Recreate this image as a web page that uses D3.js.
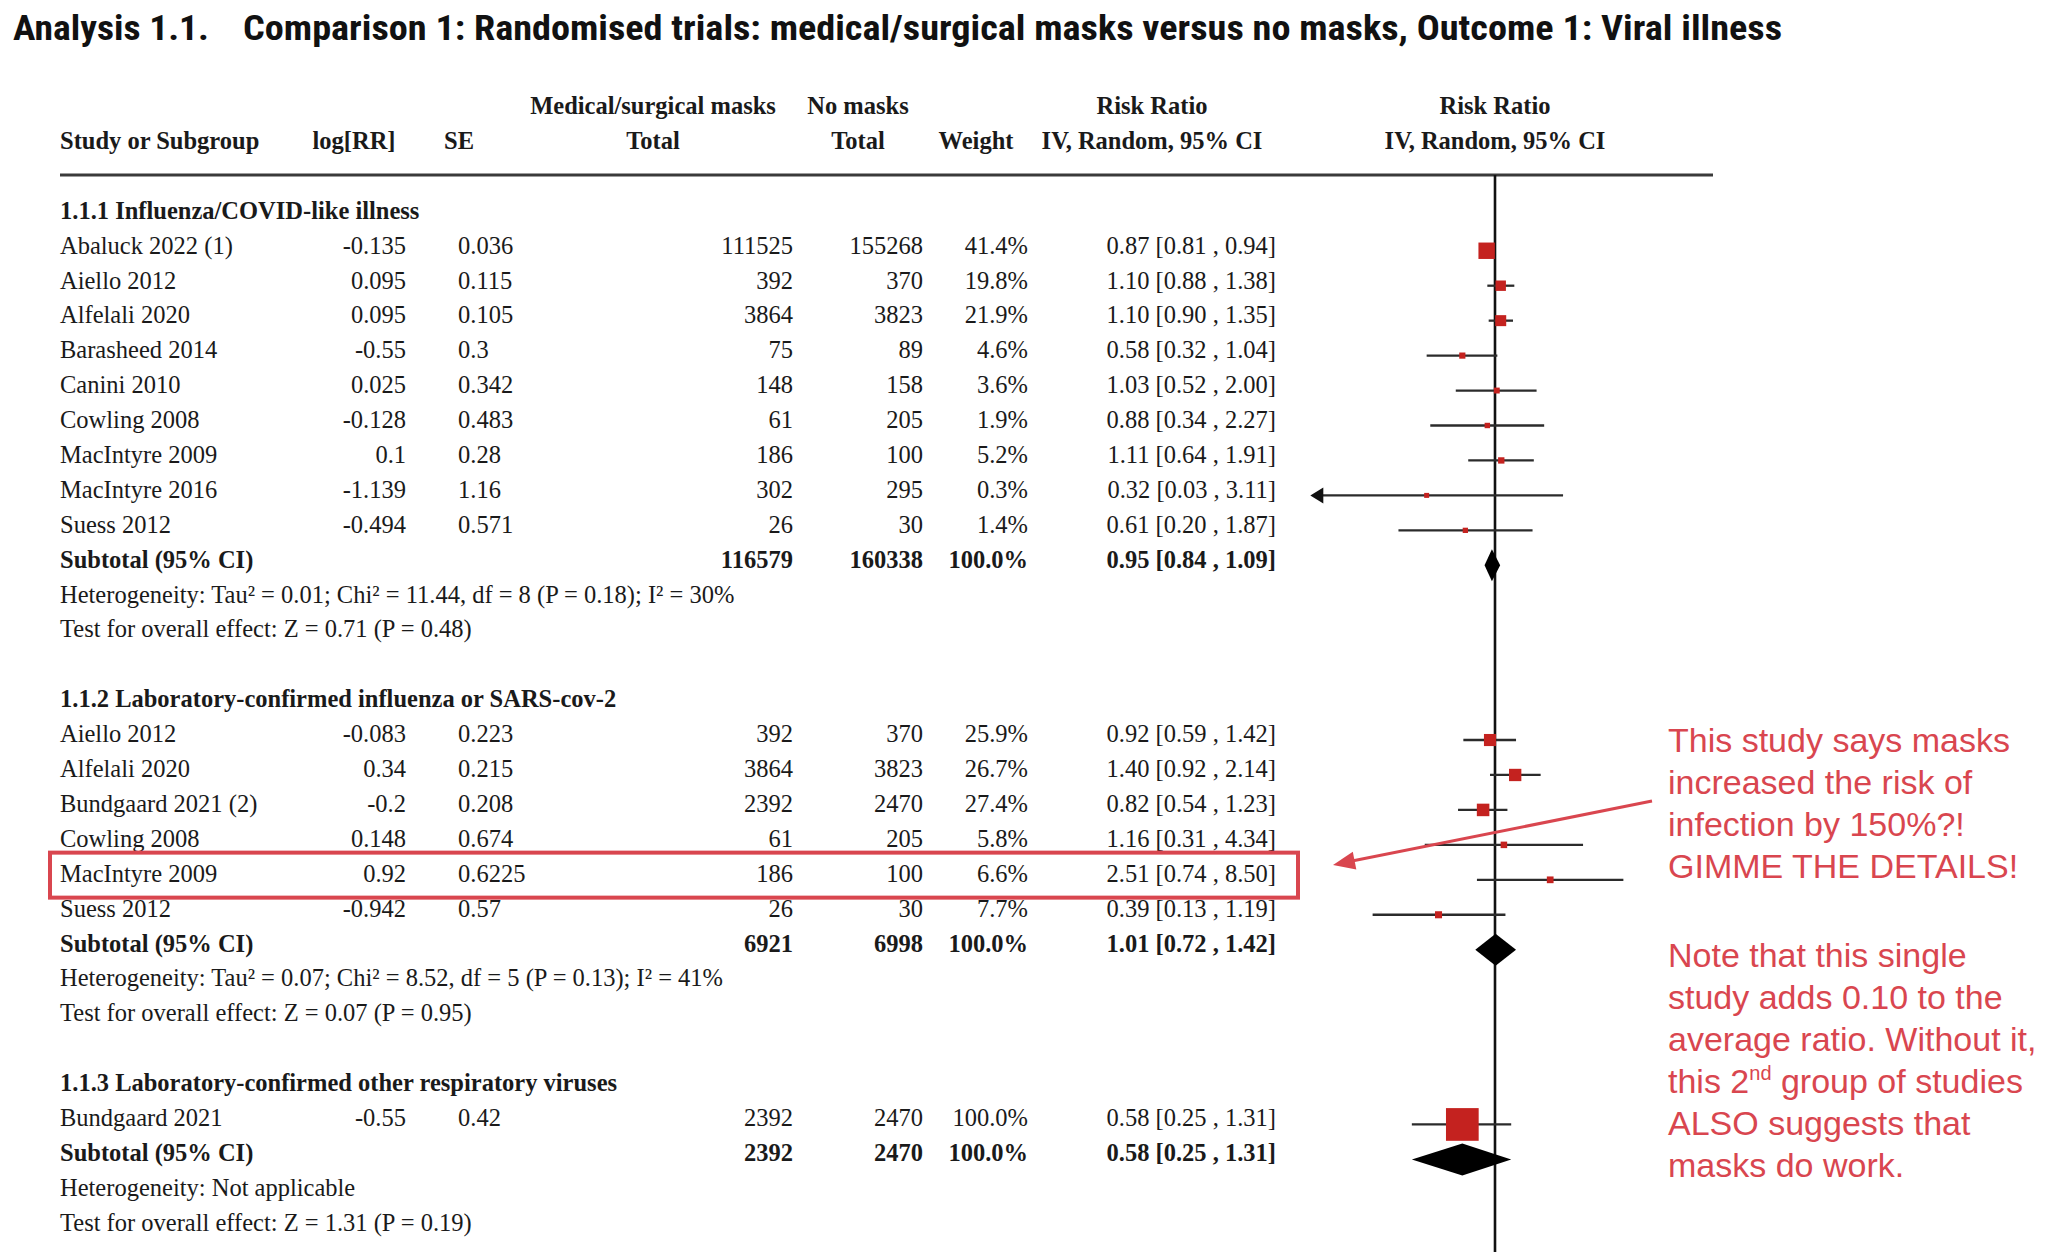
<!DOCTYPE html>
<html><head><meta charset="utf-8">
<script src="https://cdn.jsdelivr.net/npm/d3@7"></script>
<style>body{margin:0;background:#fff;} svg{display:block}</style>
</head><body><svg id="c" width="2048" height="1256"></svg>
<script>
// ---------- DATA ----------
const titleLead = "Analysis 1.1.";
const titleMain = "Comparison 1: Randomised trials: medical/surgical masks versus no masks, Outcome 1: Viral illness";
const headerTop = ["Medical/surgical masks", "No masks", "Risk Ratio", "Risk Ratio"];
const headerBottom = ["Study or Subgroup", "log[RR]", "SE", "Total", "Total", "Weight", "IV, Random, 95% CI", "IV, Random, 95% CI"];
const groupTitles = ["1.1.1 Influenza/COVID-like illness", "1.1.2 Laboratory-confirmed influenza or SARS-cov-2", "1.1.3 Laboratory-confirmed other respiratory viruses"];

const g1Names = ["Abaluck 2022 (1)", "Aiello 2012", "Alfelali 2020", "Barasheed 2014", "Canini 2010", "Cowling 2008", "MacIntyre 2009", "MacIntyre 2016", "Suess 2012"];
const g1LogRR = ["-0.135", "0.095", "0.095", "-0.55", "0.025", "-0.128", "0.1", "-1.139", "-0.494"];
const g1SE = ["0.036", "0.115", "0.105", "0.3", "0.342", "0.483", "0.28", "1.16", "0.571"];
const g1Masks = [111525, 392, 3864, 75, 148, 61, 186, 302, 26];
const g1NoMasks = [155268, 370, 3823, 89, 158, 205, 100, 295, 30];
const g1Weight = [41.4, 19.8, 21.9, 4.6, 3.6, 1.9, 5.2, 0.3, 1.4];
const g1RR = [0.87, 1.10, 1.10, 0.58, 1.03, 0.88, 1.11, 0.32, 0.61];
const g1Lo = [0.81, 0.88, 0.90, 0.32, 0.52, 0.34, 0.64, 0.03, 0.20];
const g1Hi = [0.94, 1.38, 1.35, 1.04, 2.00, 2.27, 1.91, 3.11, 1.87];

const g2Names = ["Aiello 2012", "Alfelali 2020", "Bundgaard 2021 (2)", "Cowling 2008", "MacIntyre 2009", "Suess 2012"];
const g2LogRR = ["-0.083", "0.34", "-0.2", "0.148", "0.92", "-0.942"];
const g2SE = ["0.223", "0.215", "0.208", "0.674", "0.6225", "0.57"];
const g2Masks = [392, 3864, 2392, 61, 186, 26];
const g2NoMasks = [370, 3823, 2470, 205, 100, 30];
const g2Weight = [25.9, 26.7, 27.4, 5.8, 6.6, 7.7];
const g2RR = [0.92, 1.40, 0.82, 1.16, 2.51, 0.39];
const g2Lo = [0.59, 0.92, 0.54, 0.31, 0.74, 0.13];
const g2Hi = [1.42, 2.14, 1.23, 4.34, 8.50, 1.19];

const g3Names = ["Bundgaard 2021"];
const g3LogRR = ["-0.55"];
const g3SE = ["0.42"];
const g3Masks = [2392];
const g3NoMasks = [2470];
const g3Weight = [100.0];
const g3RR = [0.58];
const g3Lo = [0.25];
const g3Hi = [1.31];

const subMasks = [116579, 6921, 2392];
const subNoMasks = [160338, 6998, 2470];
const subWeight = [100.0, 100.0, 100.0];
const subRR = [0.95, 1.01, 0.58];
const subLo = [0.84, 0.72, 0.25];
const subHi = [1.09, 1.42, 1.31];

const hetTexts = [
  "Heterogeneity: Tau² = 0.01; Chi² = 11.44, df = 8 (P = 0.18); I² = 30%",
  "Heterogeneity: Tau² = 0.07; Chi² = 8.52, df = 5 (P = 0.13); I² = 41%",
  "Heterogeneity: Not applicable"
];
const testTexts = [
  "Test for overall effect: Z = 0.71 (P = 0.48)",
  "Test for overall effect: Z = 0.07 (P = 0.95)",
  "Test for overall effect: Z = 1.31 (P = 0.19)"
];
const highlightStudy = {group: 1, name: "MacIntyre 2009"};
const noteLines1 = ["This study says masks", "increased the risk of", "infection by 150%?!", "GIMME THE DETAILS!"];
const noteLines2 = ["Note that this single", "study adds 0.10 to the", "average ratio. Without it,", "this 2|nd| group of studies", "ALSO suggests that", "masks do work."];

// ---------- LAYOUT ----------
const svg = d3.select("#c");
const FS = 24.5;
const serif = "'Liberation Serif', 'Times New Roman', serif";
const red = "#c4221f";
const noteRed = "#d9464f";

const groups = [
  {names: g1Names, logrr: g1LogRR, se: g1SE, m: g1Masks, n: g1NoMasks, w: g1Weight, rr: g1RR, lo: g1Lo, hi: g1Hi},
  {names: g2Names, logrr: g2LogRR, se: g2SE, m: g2Masks, n: g2NoMasks, w: g2Weight, rr: g2RR, lo: g2Lo, hi: g2Hi},
  {names: g3Names, logrr: g3LogRR, se: g3SE, m: g3Masks, n: g3NoMasks, w: g3Weight, rr: g3RR, lo: g3Lo, hi: g3Hi}
];

const rows = [];
let idx = 0;
groups.forEach((g, gi) => {
  rows.push({type: "gtitle", i: idx++, text: groupTitles[gi]});
  g.names.forEach((nm, k) => {
    rows.push({type: "study", i: idx++, gi, name: nm, logrr: g.logrr[k], se: g.se[k], m: g.m[k], n: g.n[k], w: g.w[k], rr: g.rr[k], lo: g.lo[k], hi: g.hi[k]});
  });
  rows.push({type: "sub", i: idx++, gi, name: "Subtotal (95% CI)", m: subMasks[gi], n: subNoMasks[gi], w: subWeight[gi], rr: subRR[gi], lo: subLo[gi], hi: subHi[gi]});
  rows.push({type: "note", i: idx++, text: hetTexts[gi]});
  rows.push({type: "note", i: idx++, text: testTexts[gi]});
  idx++;
});

const yMark = d3.scaleLinear().domain([0, 29]).range([215.8, 1229.3]);
const yText = d3.scaleLinear().domain([0, 29]).range([210.6, 1222.6]);
const x = d3.scaleLog().domain([0.05, 20]).range([1315.3, 1674.7]);
const sq = d3.scaleLinear().domain([0, 100]).range([4.9, 32.7]);
const f2 = d3.format(".2f");
const f1 = d3.format(".1f");
const ciText = d => `${f2(d.rr)} [${f2(d.lo)} , ${f2(d.hi)}]`;

const col = {name: 60, logrr: 406, se: 458, m: 793, n: 923, w: 1028, ci: 1276};
const base = y => y + 0.331 * FS;

// ---------- TITLE ----------
const titleFont = "'Liberation Sans Narrow', 'Roboto Condensed', 'Liberation Sans', sans-serif";
svg.append("text").attr("x", 13).attr("y", 40)
  .attr("font-family", titleFont).attr("font-weight", "bold").attr("font-size", 35).attr("fill", "#111")
  .attr("textLength", 196).attr("lengthAdjust", "spacingAndGlyphs").text(titleLead);
svg.append("text").attr("x", 243).attr("y", 40)
  .attr("font-family", titleFont).attr("font-weight", "bold").attr("font-size", 35).attr("fill", "#111")
  .attr("textLength", 1539).attr("lengthAdjust", "spacingAndGlyphs").text(titleMain);

// ---------- HEADERS ----------
const hdr = svg.append("g").attr("font-family", serif).attr("font-size", FS).attr("font-weight", "bold").attr("fill", "#1a1a1a");
const topY = base(105.4), botY = base(140.4);
[[headerTop[0], 653], [headerTop[1], 858], [headerTop[2], 1152], [headerTop[3], 1495]].forEach(([t, cx]) =>
  hdr.append("text").attr("x", cx).attr("y", topY).attr("text-anchor", "middle").text(t));
hdr.append("text").attr("x", col.name).attr("y", botY).text(headerBottom[0]);
[[headerBottom[1], 354], [headerBottom[2], 459], [headerBottom[3], 653], [headerBottom[4], 858], [headerBottom[5], 976], [headerBottom[6], 1152], [headerBottom[7], 1495]]
  .forEach(([t, cx]) => hdr.append("text").attr("x", cx).attr("y", botY).attr("text-anchor", "middle").text(t));

svg.append("line").attr("x1", 60).attr("x2", 1713).attr("y1", 175).attr("y2", 175)
  .attr("stroke", "#3a3a3a").attr("stroke-width", 3);

svg.append("line").attr("x1", x(1)).attr("x2", x(1)).attr("y1", 175).attr("y2", 1252)
  .attr("stroke", "#111").attr("stroke-width", 2.6);

// ---------- TABLE TEXT ----------
const tbl = svg.append("g").attr("font-family", serif).attr("font-size", FS).attr("fill", "#1a1a1a");
rows.forEach(r => {
  const y = base(yText(r.i));
  if (r.type === "gtitle") {
    tbl.append("text").attr("x", col.name).attr("y", y).attr("font-weight", "bold").text(r.text);
  } else if (r.type === "note") {
    tbl.append("text").attr("x", col.name).attr("y", y).text(r.text);
  } else {
    const bold = r.type === "sub" ? "bold" : "normal";
    const gg = tbl.append("g").attr("font-weight", bold);
    gg.append("text").attr("x", col.name).attr("y", y).text(r.name);
    if (r.type === "study") {
      gg.append("text").attr("x", col.logrr).attr("y", y).attr("text-anchor", "end").text(r.logrr);
      gg.append("text").attr("x", col.se).attr("y", y).text(r.se);
    }
    gg.append("text").attr("x", col.m).attr("y", y).attr("text-anchor", "end").text(r.m);
    gg.append("text").attr("x", col.n).attr("y", y).attr("text-anchor", "end").text(r.n);
    gg.append("text").attr("x", col.w).attr("y", y).attr("text-anchor", "end").text(f1(r.w) + "%");
    gg.append("text").attr("x", col.ci).attr("y", y).attr("text-anchor", "end").text(ciText(r));
  }
});

// ---------- FOREST MARKS ----------
const plot = svg.append("g");
const xmin = x.domain()[0], xmax = x.domain()[1];
rows.filter(r => r.type === "study").forEach(r => {
  const cy = yMark(r.i);
  const x1 = x(Math.max(r.lo, xmin)), x2 = x(Math.min(r.hi, xmax));
  plot.append("line").attr("x1", x1).attr("x2", x2).attr("y1", cy).attr("y2", cy)
    .attr("stroke", "#2b2b2b").attr("stroke-width", 2.3);
  if (r.lo < xmin) {
    plot.append("path").attr("d", `M${x1 - 5},${cy} L${x1 + 8},${cy - 8} L${x1 + 8},${cy + 8} Z`).attr("fill", "#111");
  }
  const s = sq(r.w);
  plot.append("rect").attr("x", x(r.rr) - s / 2).attr("y", cy - s / 2).attr("width", s).attr("height", s)
    .attr("fill", red);
});
rows.filter(r => r.type === "sub").forEach(r => {
  const cy = yMark(r.i);
  const h = 16;
  plot.append("path")
    .attr("d", `M${x(r.lo)},${cy} L${x(r.rr)},${cy - h} L${x(r.hi)},${cy} L${x(r.rr)},${cy + h} Z`)
    .attr("fill", "#000");
});

// ---------- ANNOTATIONS ----------
const hl = rows.find(r => r.type === "study" && r.gi === highlightStudy.group && r.name === highlightStudy.name);
const hy = yText(hl.i);
svg.append("rect").attr("x", 50).attr("y", hy - 21).attr("width", 1248).attr("height", 45)
  .attr("fill", "none").attr("stroke", noteRed).attr("stroke-width", 4);

const ax1 = 1652, ay1 = 801, ax2 = 1333, ay2 = 865;
svg.append("line").attr("x1", ax1).attr("y1", ay1).attr("x2", ax2 + 14).attr("y2", ay2 - 3)
  .attr("stroke", noteRed).attr("stroke-width", 3);
{
  const ang = Math.atan2(ay2 - ay1, ax2 - ax1);
  const L = 22, W = 9;
  const bx = ax2 - L * Math.cos(ang), by = ay2 - L * Math.sin(ang);
  const px = -Math.sin(ang) * W, py = Math.cos(ang) * W;
  svg.append("path").attr("d", `M${ax2},${ay2} L${bx + px},${by + py} L${bx - px},${by - py} Z`).attr("fill", noteRed);
}

const note = svg.append("g").attr("font-family", "'Liberation Sans', Arial, sans-serif").attr("font-size", 34).attr("fill", noteRed);
const noteY1 = [740, 782, 824, 866], noteY2 = [955, 997, 1039, 1081, 1123, 1165];
noteLines1.forEach((t, k) => note.append("text").attr("x", 1668).attr("y", noteY1[k] + 12).text(t));
noteLines2.forEach((t, k) => {
  const tx = note.append("text").attr("x", 1668).attr("y", noteY2[k] + 12);
  const parts = t.split("|");
  parts.forEach((p, j) => {
    const ts = tx.append("tspan").text(p);
    if (j === 1) ts.attr("font-size", 20).attr("dy", -13);
    if (j === 2) ts.attr("dy", 13);
  });
});
</script></body></html>
